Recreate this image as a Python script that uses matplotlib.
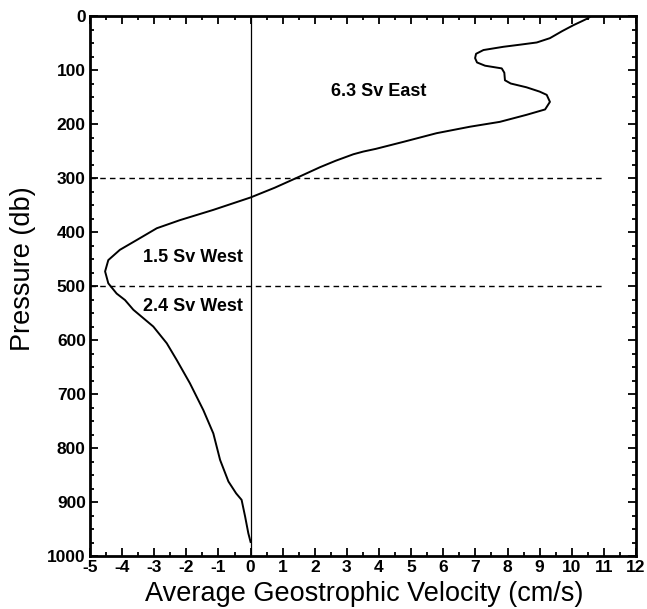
import matplotlib.pyplot as plt
from matplotlib.ticker import MultipleLocator

# --- profile (velocity cm/s, pressure db) ---
velocity = [10.6, 10.51, 10.3, 10.05, 9.7, 9.32, 8.91, 8.4, 7.87, 7.25, 7.02,
            6.99, 7.05, 7.3, 7.82, 7.9, 7.92, 8.1, 8.59, 9.0, 9.22, 9.32,
            9.17, 8.59, 7.76, 6.83, 5.79, 4.76, 3.9, 3.51, 3.2, 2.65, 2.16,
            1.5, 0.75, 0.0, -1.16, -2.2, -2.92, -3.55, -4.07, -4.43, -4.53,
            -4.43, -4.17, -3.91, -3.65, -3.03, -2.61, -2.30, -1.89, -1.47,
            -1.16, -0.95, -0.69, -0.45, -0.28, -0.17, -0.07, 0.0]
pressure = [0, 4, 10, 17, 28, 41, 49, 53, 57, 63, 70,
            78, 86, 92, 97, 105, 119, 125, 132, 140, 146, 159,
            173, 183, 196, 205, 217, 233, 246, 251, 256, 268, 280,
            298, 318, 336, 359, 378, 393, 415, 433, 452, 473,
            495, 514, 526, 544, 575, 606, 637, 680, 730,
            773, 822, 862, 884, 896, 927, 958, 974]

layer_depths = [300, 500]
labels = ['6.3 Sv East', '1.5 Sv West', '2.4 Sv West']
label_x = [4.0, -1.8, -1.8]
label_y = [140, 448, 538]

plt.rcParams['font.family'] = ['Liberation Sans', 'DejaVu Sans']
plt.rcParams['axes.unicode_minus'] = False

fig = plt.figure(figsize=(6.47, 6.09), dpi=100)
ax = fig.add_axes([0.1391, 0.0870, 0.8439, 0.8867])

ax.plot(velocity, pressure, color='black', linewidth=1.4)
ax.axvline(0, color='black', linewidth=0.9)
for d in layer_depths:
    ax.plot([-5, 11], [d, d], color='black', linestyle=(0, (4, 3)), linewidth=1.0)

for txt, x, y in zip(labels, label_x, label_y):
    ax.text(x, y, txt, ha='center', va='center', fontsize=13, fontweight='bold')

ax.set_xlim(-5, 12)
ax.set_ylim(1000, 0)
ax.xaxis.set_major_locator(MultipleLocator(1))
ax.xaxis.set_minor_locator(MultipleLocator(0.5))
ax.yaxis.set_major_locator(MultipleLocator(100))
ax.yaxis.set_minor_locator(MultipleLocator(25))
ax.tick_params(which='both', direction='in', top=True, right=True, width=1.3)
ax.tick_params(which='major', length=6, labelsize=12.5, pad=3)
ax.tick_params(which='minor', length=3)
for lab in ax.get_xticklabels() + ax.get_yticklabels():
    lab.set_fontweight('bold')
for spine in ax.spines.values():
    spine.set_linewidth(2)

ax.set_xlabel('Average Geostrophic Velocity (cm/s)', fontsize=19.5)
ax.set_ylabel('Pressure (db)', fontsize=19.5)
ax.xaxis.set_label_coords(0.502, -0.070)
ax.yaxis.set_label_coords(-0.123, 0.533)
ax.xaxis.label.set_va('center')
ax.yaxis.label.set_va('center')

fig.savefig('out.png', dpi=100)
